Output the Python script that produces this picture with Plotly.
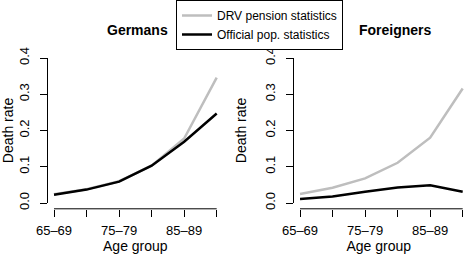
import plotly.graph_objects as go

age_groups = ["65–69", "70–74", "75–79", "80–84", "85–89", "90–94"]
shown_labels = ["65–69", "", "75–79", "", "85–89", ""]
positions = [1, 2, 3, 4, 5, 6]

germans_drv = [0.024, 0.038, 0.060, 0.103, 0.178, 0.346]
germans_off = [0.023, 0.037, 0.059, 0.103, 0.169, 0.247]
foreign_drv = [0.025, 0.042, 0.068, 0.111, 0.180, 0.316]
foreign_off = [0.011, 0.018, 0.031, 0.043, 0.049, 0.031]

y_ticks = [0.0, 0.1, 0.2, 0.3, 0.4]
y_ticktext = ["0.0", "0.1", "0.2", "0.3", "0.4"]

GRAY = "#BEBEBE"
FONT = "Liberation Sans, Arial, Helvetica, sans-serif"
W, H = 464, 254

fig = go.Figure()
fig.add_trace(go.Scatter(x=positions, y=germans_drv, mode="lines", line=dict(color=GRAY, width=2.5),
                         name="DRV pension statistics", xaxis="x", yaxis="y", legendrank=1))
fig.add_trace(go.Scatter(x=positions, y=germans_off, mode="lines", line=dict(color="black", width=2.5),
                         name="Official pop. statistics", xaxis="x", yaxis="y", legendrank=2))
fig.add_trace(go.Scatter(x=positions, y=foreign_drv, mode="lines", line=dict(color=GRAY, width=2.5),
                         name="DRV pension statistics", xaxis="x2", yaxis="y2", showlegend=False))
fig.add_trace(go.Scatter(x=positions, y=foreign_off, mode="lines", line=dict(color="black", width=2.5),
                         name="Official pop. statistics", xaxis="x2", yaxis="y2", showlegend=False))

ydom = [(254 - 208.8) / H, (254 - 52.2) / H]
yrange = [-0.016, 0.416]

xcommon = dict(showgrid=False, zeroline=False, showline=False, ticks="outside", ticklen=7,
               tickcolor="black", tickwidth=1, tickvals=positions, ticktext=shown_labels,
               tickfont=dict(size=13, color="black", family=FONT), ticklabelstandoff=3,
               title=dict(text="Age group", font=dict(size=14, color="black", family=FONT), standoff=8),
               automargin=False)
ycommon = dict(showgrid=False, zeroline=False, showline=False, ticks="outside", ticklen=7,
               tickcolor="black", tickwidth=1, tickvals=y_ticks, ticktext=y_ticktext,
               tickangle=-90, range=yrange, domain=ydom,
               tickfont=dict(size=13, color="black", family=FONT), ticklabelstandoff=5,
               title=dict(text="Death rate", font=dict(size=14, color="black", family=FONT), standoff=13),
               automargin=False)

fig.update_layout(
    width=W, height=H,
    margin=dict(l=0, r=0, t=0, b=0),
    paper_bgcolor="white", plot_bgcolor="white",
    font=dict(family=FONT, color="black"),
    xaxis=dict(domain=[47.5 / W, 223.2 / W], range=[0.8, 6.2], anchor="y", **xcommon),
    yaxis=dict(anchor="x", **ycommon),
    xaxis2=dict(domain=[293.5 / W, 1.0], range=[0.8, 6.2 - (469.2 - W) / 32.55], anchor="y2", **xcommon),
    yaxis2=dict(anchor="x2", **ycommon),
    showlegend=True,
    legend=dict(x=176 / W, y=1.0, xanchor="left", yanchor="top",
                bordercolor="black", borderwidth=1, bgcolor="white",
                font=dict(size=12, color="black", family=FONT),
                tracegroupgap=0, itemwidth=30),
)

# R-style axis lines spanning only first to last tick
for xr, yr in [("x", "y"), ("x2", "y2")]:
    fig.add_shape(type="line", xref=xr, yref=yr + " domain", x0=positions[0], x1=positions[-1],
                  y0=0, y1=0, line=dict(color="black", width=1))
    fig.add_shape(type="line", xref=xr + " domain", yref=yr, x0=0, x1=0,
                  y0=y_ticks[0], y1=y_ticks[-1], line=dict(color="black", width=1))

ann = []
ann.append(dict(text="<b>Germans</b>", x=137 / W, y=1 - 30 / H, xref="paper", yref="paper",
                showarrow=False, font=dict(size=14), xanchor="center", yanchor="middle"))
ann.append(dict(text="<b>Foreigners</b>", x=395 / W, y=1 - 30 / H, xref="paper", yref="paper",
                showarrow=False, font=dict(size=14), xanchor="center", yanchor="middle"))
fig.update_layout(annotations=ann)

fig.write_html("out.html", config={"displayModeBar": False},
               post_script="document.body.style.margin='0';document.body.style.overflow='hidden';")
